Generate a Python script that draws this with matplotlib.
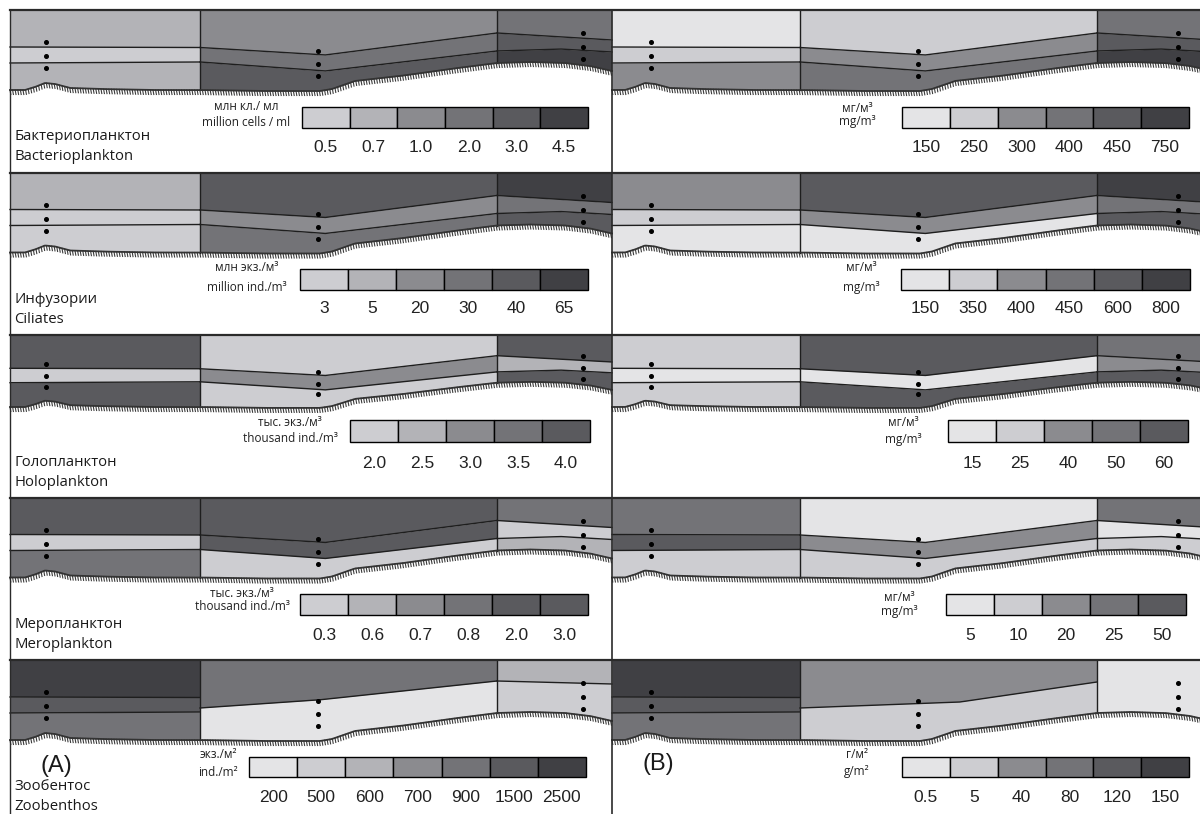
import numpy as np
import matplotlib.pyplot as plt

# shades of the classes, lightest to darkest
shades = ['#e4e4e6', '#cdcdd1', '#b3b3b7', '#8b8b8f', '#737377', '#5a5a5e', '#404044']

names_ru = ['Бактериопланктон', 'Инфузории', 'Голопланктон', 'Меропланктон', 'Зообентос']
names_en = ['Bacterioplankton', 'Ciliates', 'Holoplankton', 'Meroplankton', 'Zoobenthos']

units_a = [('млн кл./ мл', 'million cells / ml'),
           ('млн экз./м³', 'million ind./m³'),
           ('тыс. экз./м³', 'thousand ind./m³'),
           ('тыс. экз./м³', 'thousand ind./m³'),
           ('экз./м²', 'ind./m²')]
units_b = [('мг/м³', 'mg/m³'), ('мг/м³', 'mg/m³'), ('мг/м³', 'mg/m³'),
           ('мг/м³', 'mg/m³'), ('г/м²', 'g/m²')]

# legend classes (A = abundance, B = biomass) and their shade index
labels_a = [['0.5', '0.7', '1.0', '2.0', '3.0', '4.5'],
            ['3', '5', '20', '30', '40', '65'],
            ['2.0', '2.5', '3.0', '3.5', '4.0'],
            ['0.3', '0.6', '0.7', '0.8', '2.0', '3.0'],
            ['200', '500', '600', '700', '900', '1500', '2500']]
levels_a = [[1, 2, 3, 4, 5, 6], [1, 2, 3, 4, 5, 6], [1, 2, 3, 4, 5],
            [1, 2, 3, 4, 5, 5], [0, 1, 2, 3, 4, 5, 6]]
labels_b = [['150', '250', '300', '400', '450', '750'],
            ['150', '350', '400', '450', '600', '800'],
            ['15', '25', '40', '50', '60'],
            ['5', '10', '20', '25', '50'],
            ['0.5', '5', '40', '80', '120', '150']]
levels_b = [[0, 1, 3, 4, 5, 6], [0, 1, 3, 4, 5, 6], [0, 1, 3, 4, 5],
            [0, 1, 3, 4, 5], [0, 1, 3, 4, 5, 6]]

# class of each layer (top -> bottom) in the three zones
zones_a = [[['0.7', '0.5', '0.7'], ['1.0', '2.0', '3.0'], ['2.0', '3.0', '4.5']],
           [['5', '3', '3'], ['40', '20', '30'], ['65', '30', '40']],
           [['4.0', '2.0', '4.0'], ['2.0', '3.0', '2.0'], ['4.0', '2.5', '4.0']],
           [['2.0', '0.3', '0.8'], ['2.0', '3.0', '0.3'], ['0.8', '0.3', '0.6']],
           [['2500', '1500', '900'], ['900', '200'], ['600', '500']]]
zones_b = [[['150', '250', '300'], ['250', '300', '400'], ['400', '450', '750']],
           [['400', '350', '150'], ['600', '400', '150'], ['800', '450', '600']],
           [['25', '15', '25'], ['60', '15', '60'], ['50', '40', '60']],
           [['25', '50', '10'], ['5', '20', '10'], ['25', '5', '10']],
           [['150', '120', '80'], ['40', '5'], ['0.5']]]

# cross-section profile (x along section, depth below row top)
line1_x = [0, 190, 315, 487, 602]
line1_y = [37, 37.5, 45, 23, 30]
line2_x = [0, 190, 315, 487, 550, 602]
line2_y = [53, 52, 61, 41, 39, 42]
bed_x = [0, 15, 25, 35, 45, 60, 90, 140, 190, 250, 310, 322, 345, 390, 440, 487, 520, 555, 580, 602]
bed_y = [80, 80, 77, 73, 74, 78, 79, 80, 80, 81, 81, 79, 71, 66, 59, 53, 52, 53, 56, 61]
zone_edges = [0, 190, 487, 602]
# zoobenthos layer boundaries
zb_a2 = ([190, 308, 487], [48, 40, 21])
zb_a3 = ([487, 602], [21, 24])
zb_b2 = ([190, 350, 487], [48, 42, 22])

row_tops = [10 + 162.5 * i for i in range(5)]
row_scale = [1, 1, 0.9, 1, 1]
panel_x0 = [10, 610]
panel_lim = [(0, 602), (2, 590)]
dot_x = [[36, 308, 573], [41, 308, 568]]
dot_y = [[32, 46, 58], [41, 54, 66], [23, 37, 49]]

# legend placement: (box left, box right, box top, box bottom, numbers y, unit x, unit y1, unit y2)
leg_a = [(302, 588, 97, 118, 137, 246, 97, 112),
         (300, 588, 96, 117, 136, 247, 95, 115),
         (350, 590, 85, 107, 128, 290, 87, 103),
         (300, 588, 96, 117, 138, 242, 96, 109),
         (249, 586, 97, 117, 138, 218, 95, 112)]
leg_b = [(902, 1189, 97, 118, 137, 857, 98, 112),
         (901, 1190, 96, 117, 136, 861, 95, 115),
         (948, 1188, 85, 107, 128, 903, 88, 104),
         (946, 1186, 96, 117, 138, 899, 100, 114),
         (902, 1189, 97, 117, 138, 857, 95, 111)]

line_col = '#1e1e1e'

fig = plt.figure(figsize=(12, 8.14), dpi=100)
ax = fig.add_axes([0, 0, 1, 1])
ax.set_xlim(0, 1200)
ax.set_ylim(814, 0)
ax.axis('off')


def curve(spec, xs):
    return np.interp(xs, spec[0], spec[1])


line1 = (line1_x, line1_y)
line2 = (line2_x, line2_y)
bed = (bed_x, bed_y)

for r in range(5):
    y0 = row_tops[r]
    s = row_scale[r]
    for p in range(2):
        x0 = panel_x0[p]
        lo, hi = panel_lim[p]
        zones = zones_a[r] if p == 0 else zones_b[r]
        labels = labels_a[r] if p == 0 else labels_b[r]
        levels = levels_a[r] if p == 0 else levels_b[r]
        for z in range(3):
            xa = max(zone_edges[z], lo)
            xb = min(zone_edges[z + 1], hi)
            xs = np.linspace(xa, xb, 200)
            n = len(zones[z])
            if n == 3:
                inner = [line1, line2]
            elif r == 4 and p == 0:
                inner = [zb_a2] if z == 1 else [zb_a3]
            elif n == 2:
                inner = [zb_b2]
            else:
                inner = []
            bounds = [np.zeros_like(xs)] + [curve(c, xs) * s for c in inner] + [curve(bed, xs) * s]
            for k in range(n):
                col = shades[levels[labels.index(zones[z][k])]]
                ax.fill_between(x0 + xs, y0 + bounds[k], y0 + bounds[k + 1],
                                color=col, lw=0, zorder=1)
            for b in bounds[1:-1]:
                ax.plot(x0 + xs, y0 + b, color=line_col, lw=1.0, zorder=3)
            # zone edge
            if z > 0 and zone_edges[z] >= lo:
                ax.plot([x0 + xa, x0 + xa], [y0, y0 + curve(bed, [xa])[0] * s],
                        color=line_col, lw=1.0, zorder=3)
            # sampling stations
            ax.plot([x0 + dot_x[p][z]] * 3, [y0 + d * s for d in dot_y[z]], 'o',
                    color='black', ms=2.6, zorder=4)
        # sea bed with hatching
        xs = np.linspace(lo, hi, 400)
        ys = curve(bed, xs) * s
        ax.plot(x0 + xs, y0 + ys, color='#333333', lw=1.3, zorder=3)
        tx = np.arange(lo, hi, 2.6)
        ty = curve(bed, tx) * s
        for a, b in zip(tx, ty):
            ax.plot([x0 + a, x0 + a + 0.8], [y0 + b, y0 + b + 4.5],
                    color='#3c3c3c', lw=0.8, zorder=2)

        # legend boxes
        leg = leg_a[r] if p == 0 else leg_b[r]
        bl, br, bt, bb, ny, ux, uy1, uy2 = leg
        w = (br - bl) / len(labels)
        for k, lab in enumerate(labels):
            ax.add_patch(plt.Rectangle((bl + k * w, y0 + bt), w, bb - bt,
                                       facecolor=shades[levels[k]], edgecolor='black',
                                       lw=1.0, zorder=3))
            ax.text(bl + (k + 0.5) * w, y0 + ny, lab, ha='center', va='center',
                    fontsize=12.5, family='Liberation Sans', color='#222222')
        u = units_a[r] if p == 0 else units_b[r]
        ax.text(ux, y0 + uy1, u[0], ha='center', va='center', fontsize=8.5,
                family='Open Sans', color='#222222')
        ax.text(ux, y0 + uy2, u[1], ha='center', va='center', fontsize=8.5,
                family='Open Sans', color='#222222')

    # top edge of the row
    ax.plot([10, 1200], [y0, y0], color='#2a2a2a', lw=1.6, zorder=5)
    ax.text(14, y0 + 127, names_ru[r], ha='left', va='center', fontsize=10.7,
            family='Open Sans', color='#1a1a1a')
    ax.text(14, y0 + 147, names_en[r], ha='left', va='center', fontsize=10.7,
            family='Open Sans', color='#1a1a1a')

# frame lines
ax.plot([10, 10], [10, 814], color='#2a2a2a', lw=1.0, zorder=5)
ax.plot([612, 612], [10, 814], color='#2a2a2a', lw=1.2, zorder=5)

ax.text(56, 766, '(A)', ha='center', va='center', fontsize=17,
        family='Liberation Sans', color='#1a1a1a')
ax.text(658, 764, '(B)', ha='center', va='center', fontsize=17,
        family='Liberation Sans', color='#1a1a1a')

fig.savefig('out.png', dpi=100)
